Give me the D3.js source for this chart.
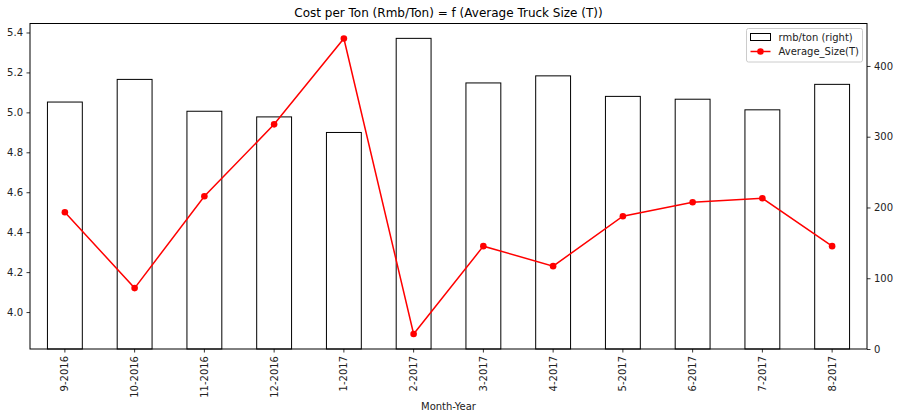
<!DOCTYPE html>
<html>
  <head>
    <title>Cost per Ton</title>
    <style>
      body { margin: 0; background: #fff; }
      text { font-family: "DejaVu Sans", sans-serif; }
    </style>
  </head>
  <body>
    <svg width="900" height="419"></svg>
    <script src="https://d3js.org/d3.v7.min.js"></script>
    <script>

    // data
    var months = ["9-2016", "10-2016", "11-2016", "12-2016", "1-2017", "2-2017",
                  "3-2017", "4-2017", "5-2017", "6-2017", "7-2017", "8-2017"];
    var rmbPerTon = [349, 381, 336, 328, 306, 439, 376, 386, 357, 353, 338, 374];   // bars, right axis
    var avgSize = [4.50, 4.12, 4.58, 4.94, 5.37, 3.89, 4.33, 4.23, 4.48, 4.55, 4.57, 4.33]; // line, left axis
    var leftTicks = [4.0, 4.2, 4.4, 4.6, 4.8, 5.0, 5.2, 5.4];
    var rightTicks = [0, 100, 200, 300, 400];

    var svg = d3.select("svg"),
        margin = {top: 23.5, right: 33, bottom: 70, left: 30},
        width = +svg.attr("width") - margin.left - margin.right,
        height = +svg.attr("height") - margin.top - margin.bottom,
        g = svg.append("g")
          .attr("transform", "translate(" + margin.left + "," + margin.top + ")");

    var x = d3.scaleBand()
        .domain(months)
        .range([0, width])
        .paddingInner(0.5)
        .paddingOuter(0.25);

    var yLeft = d3.scaleLinear()
        .domain([3.815, 5.445])
        .range([height, 0]);

    var yRight = d3.scaleLinear()
        .domain([0, 460])
        .range([height, 0]);

    // bars (secondary axis)
    g.selectAll(".bar")
      .data(months)
      .enter().append("rect")
        .attr("class", "bar")
        .attr("x", function(d) { return x(d); })
        .attr("y", function(d, i) { return yRight(rmbPerTon[i]); })
        .attr("width", x.bandwidth())
        .attr("height", function(d, i) { return height - yRight(rmbPerTon[i]); })
        .attr("fill", "none")
        .attr("stroke", "#000")
        .attr("stroke-width", 1);

    // line
    var line = d3.line()
        .x(function(d, i) { return x(months[i]) + x.bandwidth() / 2; })
        .y(function(d) { return yLeft(d); });

    g.append("path")
        .attr("fill", "none")
        .attr("stroke", "red")
        .attr("stroke-width", 1.5)
        .attr("d", line(avgSize));

    g.selectAll(".dot")
      .data(avgSize)
      .enter().append("circle")
        .attr("class", "dot")
        .attr("cx", function(d, i) { return x(months[i]) + x.bandwidth() / 2; })
        .attr("cy", function(d) { return yLeft(d); })
        .attr("r", 3.3)
        .attr("fill", "red");

    // axes
    var styleAxis = function(sel) {
      sel.selectAll(".domain").remove();
      sel.selectAll(".tick line").attr("stroke", "#000").attr("stroke-width", 0.8);
      sel.selectAll(".tick text").attr("fill", "#222").attr("font-size", 10)
          .attr("font-family", "DejaVu Sans, sans-serif");
    };

    g.append("g")
        .call(d3.axisLeft(yLeft).tickValues(leftTicks).tickFormat(d3.format(".1f")).tickSize(3.5).tickPadding(3.5))
        .call(styleAxis);

    g.append("g")
        .attr("transform", "translate(" + width + ",0)")
        .call(d3.axisRight(yRight).tickValues(rightTicks).tickSize(3.5).tickPadding(3.5))
        .call(styleAxis);

    var xAxis = g.append("g")
        .attr("transform", "translate(0," + height + ")")
        .call(d3.axisBottom(x).tickSize(3.5).tickPadding(3.5))
        .call(styleAxis);

    xAxis.selectAll(".tick text")
        .attr("transform", "rotate(-90)")
        .attr("text-anchor", "end")
        .attr("x", -7)
        .attr("y", 0)
        .attr("dy", "0.35em");

    // frame
    g.append("rect")
        .attr("width", width)
        .attr("height", height)
        .attr("fill", "none")
        .attr("stroke", "#000")
        .attr("stroke-width", 1);

    // title and axis label
    svg.append("text")
        .attr("x", margin.left + width / 2)
        .attr("y", 17)
        .attr("text-anchor", "middle")
        .attr("font-size", 12)
        .attr("fill", "#000")
        .text("Cost per Ton (Rmb/Ton) = f (Average Truck Size (T))");

    svg.append("text")
        .attr("x", margin.left + width / 2)
        .attr("y", 410)
        .attr("text-anchor", "middle")
        .attr("font-size", 10)
        .attr("fill", "#222")
        .text("Month-Year");

    // legend
    var legend = svg.append("g").attr("transform", "translate(746.5,28.5)");
    legend.append("rect")
        .attr("width", 116)
        .attr("height", 33.5)
        .attr("rx", 2)
        .attr("fill", "#fff")
        .attr("fill-opacity", 0.8)
        .attr("stroke", "#ccc");
    legend.append("rect")
        .attr("x", 4).attr("y", 5)
        .attr("width", 20).attr("height", 7)
        .attr("fill", "none").attr("stroke", "#000");
    legend.append("text")
        .attr("x", 32).attr("y", 12)
        .attr("font-size", 10).attr("fill", "#222")
        .text("rmb/ton (right)");
    legend.append("line")
        .attr("x1", 4).attr("x2", 24).attr("y1", 23).attr("y2", 23)
        .attr("stroke", "red").attr("stroke-width", 1.5);
    legend.append("circle")
        .attr("cx", 14).attr("cy", 23).attr("r", 3.3).attr("fill", "red");
    legend.append("text")
        .attr("x", 32).attr("y", 26.5)
        .attr("font-size", 10).attr("fill", "#222")
        .text("Average_Size(T)");

    </script>
  </body>
</html>
